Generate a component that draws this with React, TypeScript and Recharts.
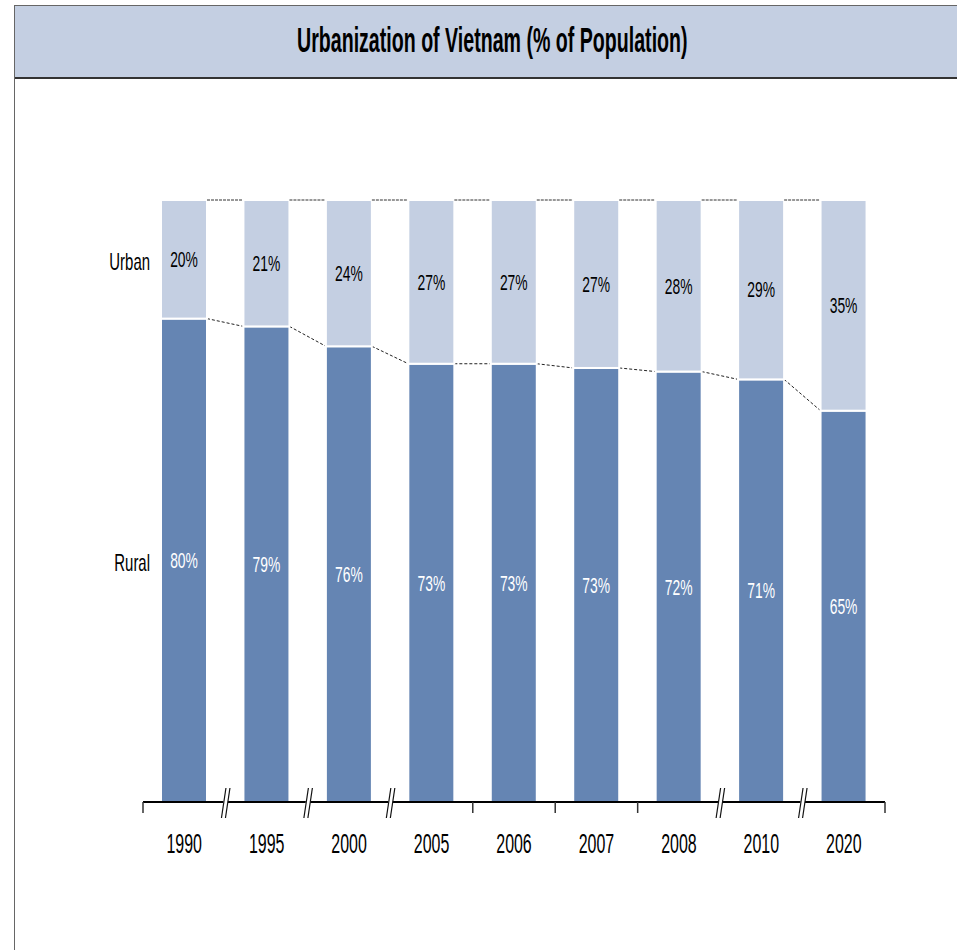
import { Bar, BarChart, LabelList, XAxis, YAxis } from "recharts";

const years = ["1990", "1995", "2000", "2005", "2006", "2007", "2008", "2010", "2020"];
const ruralShare = [80.3, 79.0, 75.7, 72.8, 72.8, 72.1, 71.5, 70.2, 65.0];
const urbanShare = [19.7, 21.0, 24.3, 27.2, 27.2, 27.9, 28.5, 29.8, 35.0];
const ruralLabels = ["80%", "79%", "76%", "73%", "73%", "73%", "72%", "71%", "65%"];
const urbanLabels = ["20%", "21%", "24%", "27%", "27%", "27%", "28%", "29%", "35%"];
// gap after each year: true = years skipped (drawn as //), false = plain tick
const breakAfter = [true, true, true, false, false, false, true, true];

const data = years.map((year, i) => ({
  year,
  rural: ruralShare[i],
  urban: urbanShare[i],
  ruralLabel: ruralLabels[i],
  urbanLabel: urbanLabels[i],
}));

const W = 957;
const H = 950;
const MARGIN = { top: 200, right: 72, bottom: 88, left: 143 };
const STEP = (W - MARGIN.left - MARGIN.right) / years.length;
const FONT = '"Liberation Sans Narrow", "Arial Narrow", "Liberation Sans", Arial, sans-serif';

const RURAL = "#6585b3";
const URBAN = "#c4cfe2";

// the source picture is squeezed sideways, so text gets a horizontal scale
function NarrowText({ x, y, size, color = "#000", anchor = "middle", squash = 0.62, children }: any) {
  return (
    <text
      transform={`translate(${x},${y}) scale(${squash},1)`}
      textAnchor={anchor}
      dominantBaseline="central"
      fontSize={size}
      fill={color}
      fontFamily={FONT}
    >
      {children}
    </text>
  );
}

function RuralShape(props: any) {
  const { x, y, width, height, index, payload } = props;
  const bottom = y + height;
  const perUnit = height / payload.rural;
  const next = data[index + 1];
  return (
    <g>
      <rect x={x} y={y} width={width} height={height} fill={RURAL} stroke="#fff" strokeWidth={2} />
      {next && (
        <line
          x1={x + width}
          y1={y}
          x2={x + STEP}
          y2={bottom - next.rural * perUnit}
          stroke="#222"
          strokeWidth={1}
          strokeDasharray="3 2"
        />
      )}
    </g>
  );
}

function UrbanShape(props: any) {
  const { x, y, width, height, index } = props;
  const next = data[index + 1];
  return (
    <g>
      <rect x={x} y={y} width={width} height={height} fill={URBAN} stroke="#fff" strokeWidth={2} />
      {next && (
        <line x1={x + width} y1={y} x2={x + STEP} y2={y} stroke="#777" strokeWidth={1.5} strokeDasharray="3 1" />
      )}
    </g>
  );
}

function SegmentLabel({ x, y, width, height, value, index, seriesName, textColor }: any) {
  return (
    <g>
      <NarrowText x={x + width / 2} y={y + height / 2} size={22} color={textColor} squash={0.63}>
        {value}
      </NarrowText>
      {index === 0 && (
        <NarrowText x={x - 11} y={y + height / 2 + 2} size={23} anchor="end" squash={0.65}>
          {seriesName}
        </NarrowText>
      )}
    </g>
  );
}

function BreakMark({ cx, y }: { cx: number; y: number }) {
  return (
    <g>
      <polygon points={`${cx - 0.5},${y - 14} ${cx + 4},${y - 14} ${cx + 0.5},${y + 16} ${cx - 4},${y + 16}`} fill="#fff" />
      <line x1={cx + 0.5} y1={y - 14} x2={cx - 4} y2={y + 16} stroke="#111" strokeWidth={1.2} />
      <line x1={cx + 4.5} y1={y - 14} x2={cx} y2={y + 16} stroke="#111" strokeWidth={1.2} />
    </g>
  );
}

function YearTick({ x, y, payload, index }: any) {
  const half = STEP / 2;
  const tick = (tx: number) => <line x1={tx} y1={y} x2={tx} y2={y + 11} stroke="#333" strokeWidth={1.5} />;
  let after;
  if (index < years.length - 1) after = breakAfter[index] ? <BreakMark cx={x + half} y={y} /> : tick(x + half);
  else after = tick(x + half);
  return (
    <g>
      {index === 0 && tick(x - half)}
      {after}
      <NarrowText x={x} y={y + 41} size={28} squash={0.57}>
        {payload.value}
      </NarrowText>
    </g>
  );
}

export default function App() {
  return (
    <div style={{ position: "absolute", left: 0, top: 0, width: W, height: H, overflow: "hidden", background: "#fff" }}>
      <div
        style={{
          position: "absolute",
          left: 14,
          top: 5,
          width: 960,
          height: 71,
          background: URBAN,
          borderTop: "1px solid #666",
          borderLeft: "1px solid #666",
          borderBottom: "2px solid #333",
        }}
      >
        <span
          style={{
            position: "absolute",
            left: 282,
            top: 4,
            display: "inline-block",
            transform: "scaleX(0.56)",
            transformOrigin: "left center",
            fontFamily: FONT,
            fontWeight: 700,
            fontSize: 35,
            lineHeight: "60px",
            color: "#000",
            whiteSpace: "nowrap",
          }}
        >
          Urbanization of Vietnam (% of Population)
        </span>
      </div>
      <div style={{ position: "absolute", left: 14, top: 5, width: 1, height: H, background: "#666" }} />
      <div style={{ position: "absolute", left: 0, top: 0 }}>
        <BarChart width={W} height={H} data={data} margin={MARGIN}>
          <YAxis hide domain={[0, 100]} />
          <XAxis
            dataKey="year"
            height={60}
            interval={0}
            tickLine={false}
            tickSize={0}
            tickMargin={0}
            axisLine={{ stroke: "#000", strokeWidth: 2 }}
            tick={<YearTick />}
          />
          <Bar dataKey="rural" stackId="pop" barSize={46} fill={RURAL} shape={<RuralShape />} isAnimationActive={false}>
            <LabelList dataKey="ruralLabel" content={<SegmentLabel seriesName="Rural" textColor="#fff" />} />
          </Bar>
          <Bar dataKey="urban" stackId="pop" barSize={46} fill={URBAN} shape={<UrbanShape />} isAnimationActive={false}>
            <LabelList dataKey="urbanLabel" content={<SegmentLabel seriesName="Urban" textColor="#000" />} />
          </Bar>
        </BarChart>
      </div>
    </div>
  );
}
